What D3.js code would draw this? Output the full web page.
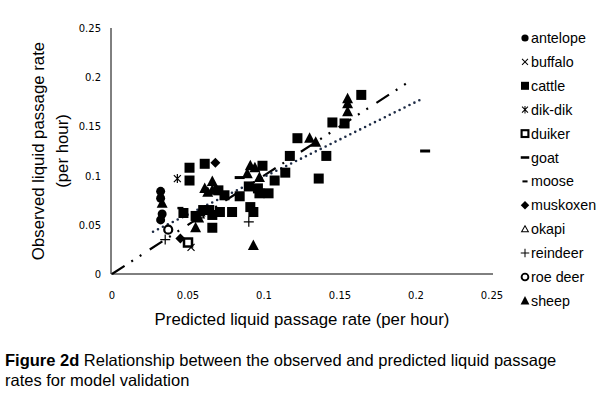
<!DOCTYPE html>
<html>
<head>
<meta charset="utf-8">
<script src="https://cdn.jsdelivr.net/npm/d3@7"></script>
<style>
  body { margin: 0; background: #fff; }
  text { font-family: "Liberation Sans", Arial, sans-serif; }
</style>
</head>
<body>
<svg id="chart"></svg>
<script>
const svg_w = 601;
const svg_h = 395;

// species points: [predicted, observed]
const antelope = [[0.032,0.084],[0.032,0.077],[0.033,0.061],[0.032,0.055]];
const buffalo = [[0.052,0.027]];
const cattle = [
  [0.051,0.108],[0.051,0.095],[0.061,0.112],[0.070,0.085],[0.074,0.080],
  [0.079,0.063],[0.066,0.047],[0.055,0.059],[0.047,0.062],[0.064,0.065],
  [0.060,0.065],[0.066,0.060],[0.071,0.063],[0.084,0.079],[0.090,0.089],
  [0.091,0.068],[0.093,0.063],[0.096,0.087],[0.099,0.110],[0.097,0.082],
  [0.103,0.082],[0.107,0.095],[0.114,0.103],[0.117,0.120],[0.122,0.138],
  [0.136,0.097],[0.141,0.120],[0.145,0.154],[0.153,0.153],[0.164,0.182]
];
const dikdik = [[0.043,0.097]];
const duiker = [[0.050,0.032]];
const goat = [[0.206,0.125],[0.084,0.098]];
const moose = [[0.045,0.067]];
const muskoxen = [[0.068,0.113],[0.045,0.036]];
const okapi = [[0.058,0.060]];
const reindeer = [[0.035,0.035],[0.090,0.053]];
const roe_deer = [[0.037,0.045]];
const sheep = [
  [0.033,0.072],[0.055,0.047],[0.057,0.057],[0.058,0.063],[0.061,0.087],
  [0.066,0.094],[0.063,0.083],[0.066,0.085],[0.089,0.102],[0.094,0.108],
  [0.091,0.110],[0.097,0.098],[0.130,0.138],[0.134,0.134],[0.155,0.178],
  [0.155,0.173],[0.155,0.165],[0.093,0.029]
];

// lines
const line_1to1 = [[0,0],[0.197,0.197]];
const line_fit = [[0.027,0.043],[0.204,0.178]];

const x_ticks = [0,0.05,0.1,0.15,0.2,0.25];
const y_ticks = [0,0.05,0.1,0.15,0.2,0.25];

const series = [
  {label:"antelope", type:"circle", pts:antelope},
  {label:"buffalo", type:"x", pts:buffalo},
  {label:"cattle", type:"square", pts:cattle},
  {label:"dik-dik", type:"asterisk", pts:dikdik},
  {label:"duiker", type:"opensquare", pts:duiker},
  {label:"goat", type:"dash", pts:goat},
  {label:"moose", type:"shortdash", pts:moose},
  {label:"muskoxen", type:"diamond", pts:muskoxen},
  {label:"okapi", type:"opentriangle", pts:okapi},
  {label:"reindeer", type:"plus", pts:reindeer},
  {label:"roe deer", type:"opencircle", pts:roe_deer},
  {label:"sheep", type:"triangle", pts:sheep}
];

const svg = d3.select("#chart").attr("width", svg_w).attr("height", svg_h);

const x_scale = d3.scaleLinear().domain([0,0.25]).range([112,492]);
const y_scale = d3.scaleLinear().domain([0,0.25]).range([274,28]);

// axes: just lines and labels, no ticks
svg.append("line").attr("x1",111).attr("x2",111).attr("y1",y_scale(0.25)).attr("y2",y_scale(0))
  .attr("stroke","#000").attr("stroke-width",1);
svg.append("line").attr("x1",111).attr("x2",x_scale(0.25)+1).attr("y1",274).attr("y2",274)
  .attr("stroke","#000").attr("stroke-width",1);

svg.append("g").selectAll("text").data(x_ticks).enter().append("text")
  .attr("x", d=>x_scale(d)).attr("y", 299)
  .attr("text-anchor","middle")
  .style("font-family","'DejaVu Sans', sans-serif").style("font-size","10px")
  .text(d=>d);

svg.append("g").selectAll("text").data(y_ticks).enter().append("text")
  .attr("x", 101).attr("y", d=>y_scale(d)+4)
  .attr("text-anchor","end")
  .style("font-family","'DejaVu Sans', sans-serif").style("font-size","10px")
  .text(d=>d);

// axis titles
svg.append("text").attr("x",302).attr("y",325).attr("text-anchor","middle")
  .style("font-size","16.8px").text("Predicted liquid passage rate (per hour)");
const yt = svg.append("text").attr("transform","translate(44,151) rotate(-90)")
  .attr("text-anchor","middle").style("font-size","16.8px");
yt.append("tspan").attr("x",0).attr("y",0).text("Observed liquid passage rate");
yt.append("tspan").attr("x",0).attr("y",24).text("(per hour)");

// trend lines
const line = d3.line().x(d=>x_scale(d[0])).y(d=>y_scale(d[1]));
svg.append("path").attr("d", line(line_1to1)).attr("fill","none")
  .attr("stroke","#000").attr("stroke-width",2.2)
  .attr("stroke-dasharray","15,8,2,8,2,10");
svg.append("path").attr("d", line(line_fit)).attr("fill","none")
  .attr("stroke","#1d2b45").attr("stroke-width",2.6)
  .attr("stroke-linecap","round")
  .attr("stroke-dasharray","0,5.5");

// marker drawing
function marker(g, type) {
  if (type=="circle") g.append("circle").attr("r",4.5).attr("fill","#000");
  else if (type=="square") g.append("rect").attr("x",-5).attr("y",-5).attr("width",10).attr("height",10).attr("fill","#000");
  else if (type=="triangle") g.append("path").attr("d","M0,-6L5.5,4.5L-5.5,4.5Z").attr("fill","#000");
  else if (type=="diamond") g.append("path").attr("d","M0,-5L5,0L0,5L-5,0Z").attr("fill","#000");
  else if (type=="opensquare") g.append("rect").attr("x",-4).attr("y",-4).attr("width",8).attr("height",8)
    .attr("fill","#fff").attr("stroke","#000").attr("stroke-width",2.5);
  else if (type=="opencircle") g.append("circle").attr("r",4).attr("fill","#fff").attr("stroke","#000").attr("stroke-width",2.2);
  else if (type=="opentriangle") g.append("path").attr("d","M0,-4L4,3L-4,3Z").attr("fill","#fff").attr("stroke","#000").attr("stroke-width",1.2);
  else if (type=="dash") g.append("rect").attr("x",-5).attr("y",-1.5).attr("width",10).attr("height",3).attr("fill","#000");
  else if (type=="shortdash") g.append("rect").attr("x",-3).attr("y",-1.2).attr("width",6).attr("height",2.4).attr("fill","#000");
  else if (type=="plus") g.append("path").attr("d","M-5,0H5M0,-5V5").attr("stroke","#000").attr("stroke-width",1.2);
  else if (type=="x") g.append("path").attr("d","M-3.5,-3.5L3.5,3.5M-3.5,3.5L3.5,-3.5").attr("stroke","#000").attr("stroke-width",1.2);
  else if (type=="asterisk") g.append("path").attr("d","M-3.5,-3.5L3.5,3.5M-3.5,3.5L3.5,-3.5M0,-4.5V4.5").attr("stroke","#000").attr("stroke-width",1.2);
}

// points
series.forEach(s => {
  svg.append("g").selectAll("g").data(s.pts).enter().append("g")
    .attr("transform", d=>`translate(${x_scale(d[0])},${y_scale(d[1])})`)
    .each(function(){ marker(d3.select(this), s.type); });
});

// legend
const legend = svg.append("g").selectAll("g").data(series).enter().append("g")
  .attr("transform",(d,i)=>`translate(525,${38+i*23.9})`);
legend.each(function(d){
  const g = d3.select(this).append("g").attr("transform", d.type=="square"||d.type=="circle"||d.type=="triangle" ? "scale(0.8)" : "scale(0.85)");
  marker(g, d.type);
});
legend.append("text").attr("x",6).attr("y",5).style("font-size","14.3px").text(d=>d.label);

// caption
const cap = svg.append("text").attr("x",5).attr("y",366).style("font-size","16.5px");
cap.append("tspan").style("font-weight","bold").text("Figure 2d");
cap.append("tspan").text(" Relationship between the observed and predicted liquid passage");
svg.append("text").attr("x",5).attr("y",386).style("font-size","16.5px").text("rates for model validation");
</script>
</body>
</html>
